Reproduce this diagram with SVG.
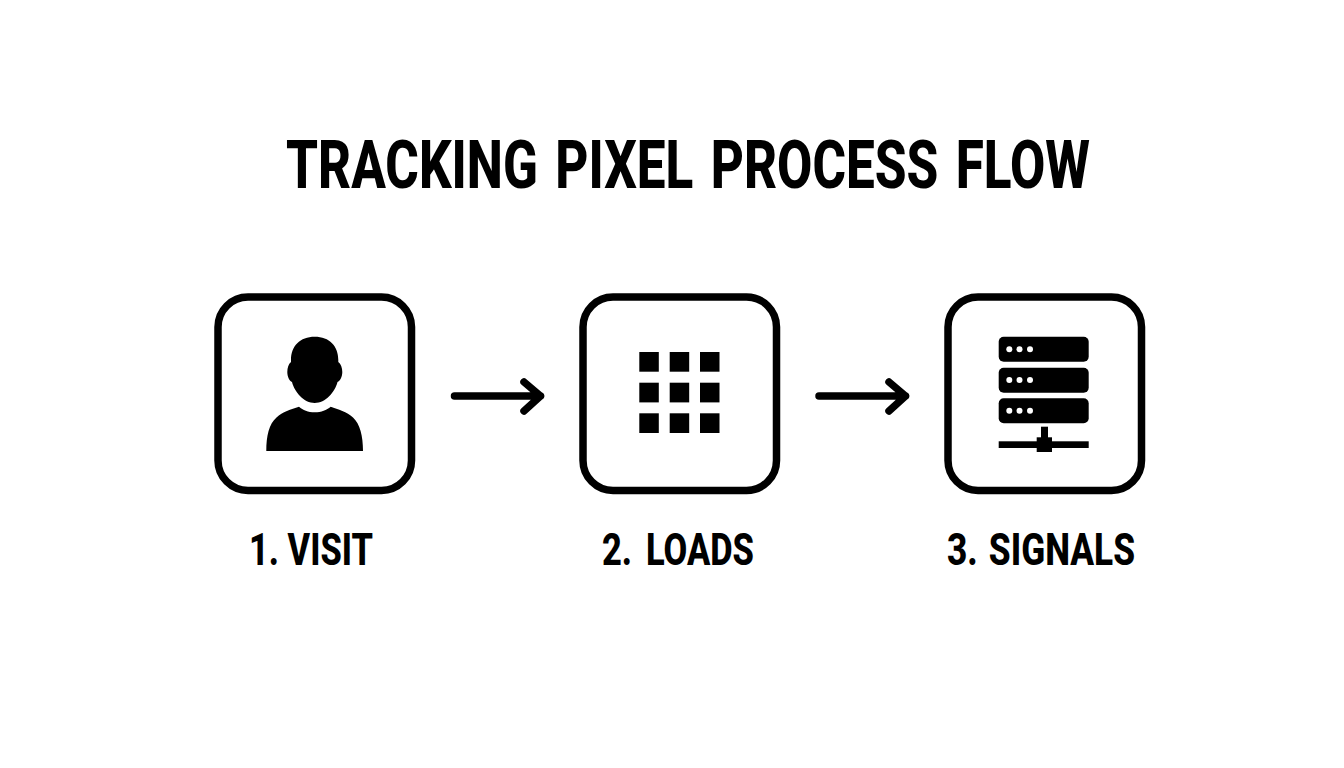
<svg xmlns="http://www.w3.org/2000/svg" width="1344" height="768" viewBox="0 0 1344 768">
<style>
.box{fill:#fff;stroke:#000;stroke-width:7.500}
.t{font-family:"Roboto","Liberation Sans",sans-serif;font-weight:800;fill:#000}
.title{font-size:66px;word-spacing:6px}
.lab{font-size:45px}
.arrow{fill:none;stroke:#000;stroke-width:7.500;stroke-linecap:round;stroke-linejoin:round}
.ic{fill:#000}
.dot{fill:#fff}
</style>
<rect width="1344" height="768" fill="#fff"/>
<text id="title" class="t title" x="286" y="188" textLength="804" lengthAdjust="spacingAndGlyphs">TRACKING PIXEL PROCESS FLOW</text>
<g id="connectors">
<path class="arrow" d="M454.500 396H540.500M524 382L540.500 396L524 411"/>
<path class="arrow" d="M819 396H905.500M889 382L905.500 396L889 411"/>
</g>
<g id="node-visit">
<rect class="box" x="218" y="297" width="193.500" height="193.500" rx="30"/>
<path class="ic" d="M314.700 336.700C300 336.700 291 346 291 360L291 362C288.500 364 287.300 368 287.300 372C287.300 377 289.500 381 292 382C294.500 392 304 403 314.700 403C325.500 403 335 392 337.500 382C340 381 342.300 377 342.300 372C342.300 368 341 364 338.300 362L338.300 360C338.300 346 329.500 336.700 314.700 336.700Z"/>
<path class="ic" d="M299 406.700C303 410 308 412.300 314.700 412.300C321.500 412.300 326.500 410 330.700 406.700C338 409 347 412 353 417.500C360 424 363 436 363 451H266.300C266.300 436 269 424 276.500 417.500C282.500 412 291 409 299 406.700Z"/>
<text class="t lab" x="249" y="565" textLength="124" lengthAdjust="spacingAndGlyphs">1. VISIT</text>
</g>
<g id="node-loads">
<rect class="box" x="583" y="297" width="193.500" height="193.500" rx="30"/>
<rect class="ic" x="639.300" y="352" width="19.500" height="19.700"/>
<rect class="ic" x="669.700" y="352" width="19.500" height="19.700"/>
<rect class="ic" x="700" y="352" width="19.500" height="19.700"/>
<rect class="ic" x="639.300" y="382.700" width="19.500" height="19.700"/>
<rect class="ic" x="669.700" y="382.700" width="19.500" height="19.700"/>
<rect class="ic" x="700" y="382.700" width="19.500" height="19.700"/>
<rect class="ic" x="639.300" y="413.300" width="19.500" height="19.700"/>
<rect class="ic" x="669.700" y="413.300" width="19.500" height="19.700"/>
<rect class="ic" x="700" y="413.300" width="19.500" height="19.700"/>
<text class="t lab" x="602" y="565" textLength="152" lengthAdjust="spacingAndGlyphs" style="word-spacing:7px">2. LOADS</text>
</g>
<g id="node-signals">
<rect class="box" x="948" y="297" width="193.500" height="193.500" rx="30"/>
<rect class="ic" x="998.700" y="336.700" width="90" height="25" rx="5"/>
<rect class="ic" x="998.700" y="367.700" width="90" height="25" rx="5"/>
<rect class="ic" x="998.700" y="398.300" width="90" height="25" rx="5"/>
<circle class="dot" cx="1009.300" cy="349.300" r="3"/><circle class="dot" cx="1019.500" cy="349.300" r="3"/><circle class="dot" cx="1030" cy="349.300" r="3"/>
<circle class="dot" cx="1009.300" cy="380" r="3"/><circle class="dot" cx="1019.500" cy="380" r="3"/><circle class="dot" cx="1030" cy="380" r="3"/>
<circle class="dot" cx="1009.300" cy="410.700" r="3"/><circle class="dot" cx="1019.500" cy="410.700" r="3"/><circle class="dot" cx="1030" cy="410.700" r="3"/>
<rect class="ic" x="1041" y="426.700" width="7" height="12"/>
<rect class="ic" x="1036.700" y="437.300" width="15.300" height="14.700"/>
<rect class="ic" x="998.700" y="441.300" width="90" height="6.700"/>
<text class="t lab" x="947" y="565" textLength="188" lengthAdjust="spacingAndGlyphs" style="word-spacing:3px">3. SIGNALS</text>
</g>
</svg>
